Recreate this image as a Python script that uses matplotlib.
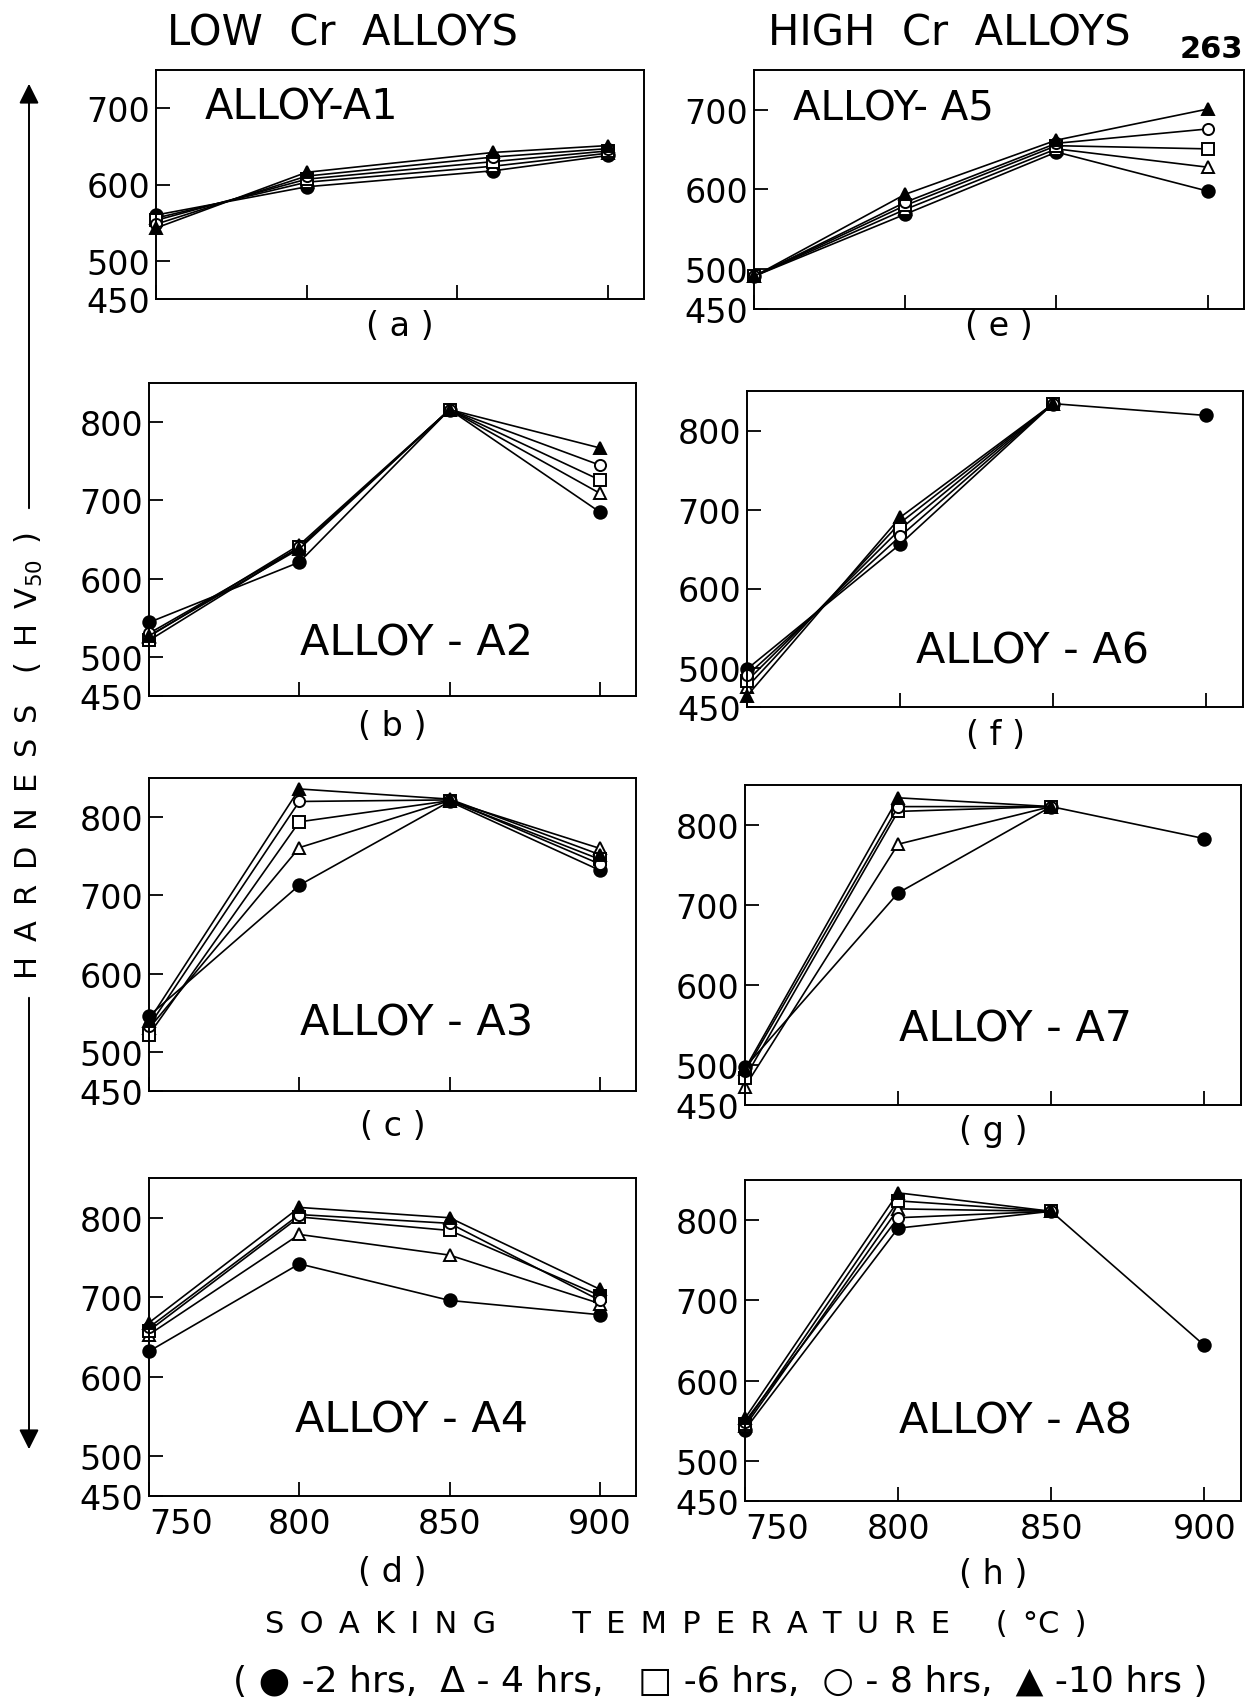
import numpy as np
import matplotlib.pyplot as plt
from matplotlib.patches import FancyArrowPatch

# soaking temperature (deg C) and hardness HV50, rows = 2, 4, 6, 8, 10 hrs
temps = [750, 800, 850, 900]
temps_a1 = [750, 800, 862, 900]
xtick_labels = ['750', '800', '850', '900']
yticks_low = [450, 500, 600, 700]
yticks_high = [450, 500, 600, 700, 800]
nan = np.nan

alloy_a1 = [[560, 597, 618, 638], [556, 603, 624, 641], [553, 607, 630, 644],
            [548, 611, 636, 647], [543, 616, 642, 651]]
alloy_a2 = [[544, 621, 816, 685], [526, 643, 816, 709], [521, 640, 816, 726],
            [530, 640, 816, 745], [527, 638, 816, 767]]
alloy_a3 = [[546, 713, 820, 732], [530, 761, 821, 760], [522, 794, 821, 746],
            [533, 820, 822, 740], [540, 836, 823, 752]]
alloy_a4 = [[632, 742, 696, 678], [653, 779, 753, 692], [658, 801, 784, 702],
            [662, 804, 793, 696], [668, 813, 800, 710]]
alloy_a5 = [[491, 569, 647, 598], [491, 575, 651, 628], [491, 580, 655, 651],
            [491, 584, 658, 676], [491, 594, 662, 701]]
alloy_a6 = [[498, 656, 834, 819], [475, 683, 834, nan], [483, 675, 834, nan],
            [490, 666, 834, nan], [464, 690, 834, nan]]
alloy_a7 = [[497, 715, 823, 783], [473, 776, 823, nan], [484, 817, 823, nan],
            [492, 823, 823, nan], [495, 834, 823, nan]]
alloy_a8 = [[539, 790, 811, 644], [543, 814, 811, nan], [546, 824, 811, nan],
            [549, 803, 811, nan], [553, 834, 811, nan]]

W, H = 1255, 1706
fig = plt.figure(figsize=(W / 100, H / 100), dpi=100)
plt.rcParams['font.family'] = 'DejaVu Sans'

# marker per soaking time: filled circle, open triangle, open square, open circle, filled triangle
styles = [('o', 'black', 9), ('^', 'white', 9), ('s', 'white', 8), ('o', 'white', 8), ('^', 'black', 9)]


def box(l, r, t, b):
    return [l / W, 1 - b / H, (r - l) / W, (b - t) / H]


panels = [
    (alloy_a1, temps_a1, 750, yticks_low, box(156, 644, 71, 300), 'ALLOY-A1', (0.10, 0.84), 30, '( a )', 327, False),
    (alloy_a2, temps, 850, yticks_high, box(149, 636, 384, 697), 'ALLOY - A2', (0.31, 0.17), 31, '( b )', 727, False),
    (alloy_a3, temps, 850, yticks_high, box(149, 636, 779, 1092), 'ALLOY - A3', (0.31, 0.22), 31, '( c )', 1127, False),
    (alloy_a4, temps, 850, yticks_high, box(149, 636, 1179, 1497), 'ALLOY - A4', (0.30, 0.24), 31, '( d )', 1573, True),
    (alloy_a5, temps, 750, yticks_low, box(754, 1244, 71, 310), 'ALLOY- A5', (0.08, 0.84), 29, '( e )', 327, False),
    (alloy_a6, temps, 850, yticks_high, box(747, 1243, 392, 708), 'ALLOY - A6', (0.34, 0.18), 31, '( f )', 736, False),
    (alloy_a7, temps, 850, yticks_high, box(745, 1241, 786, 1106), 'ALLOY - A7', (0.31, 0.24), 31, '( g )', 1132, False),
    (alloy_a8, temps, 850, yticks_high, box(745, 1241, 1181, 1502), 'ALLOY - A8', (0.31, 0.25), 31, '( h )', 1575, True),
]

for data, x, ytop, yt, pos, name, tpos, tsize, sub, sub_y, bottom in panels:
    ax = fig.add_axes(pos)
    for row, (m, fc, ms) in zip(data, styles):
        ax.plot(x, row, color='black', lw=1.2, marker=m, markerfacecolor=fc,
                markeredgecolor='black', markeredgewidth=1.4, markersize=ms, clip_on=False)
    ax.set_xlim(750, 912)
    ax.set_ylim(450, ytop)
    ax.set_yticks(yt)
    ax.set_yticklabels([str(v) for v in yt], fontsize=24)
    ax.set_xticks(temps)
    if bottom:
        ax.set_xticklabels(xtick_labels, fontsize=24)
        ax.get_xticklabels()[0].set_horizontalalignment('left')
    else:
        ax.set_xticklabels([])
    ax.tick_params(direction='in', length=10, width=1.3, pad=8)
    ax.tick_params(axis='y', pad=4)
    for s in ax.spines.values():
        s.set_linewidth(1.4)
    ax.text(tpos[0], tpos[1], name, transform=ax.transAxes, fontsize=tsize, va='center', ha='left')
    cx = (pos[0] + pos[2] / 2)
    fig.text(cx, 1 - sub_y / H, sub, fontsize=24, ha='center', va='center')

fig.text(342 / W, 1 - 33 / H, 'LOW  Cr  ALLOYS', fontsize=30, ha='center', va='center')
fig.text(949 / W, 1 - 34 / H, 'HIGH  Cr  ALLOYS', fontsize=30, ha='center', va='center')
fig.text(1211 / W, 1 - 50 / H, '263', fontsize=22, fontweight='bold', ha='center', va='center')

fig.text(29 / W, 1 - 756 / H, '\u2002'.join('HARDNESS') + '\u2003(\u2002H\u2002V$_{50}$\u2002)',
         fontsize=22, rotation=90, ha='center', va='center')
fig.add_artist(FancyArrowPatch((29 / W, 1 - 512 / H), (29 / W, 1 - 82 / H), transform=fig.transFigure,
                               arrowstyle='-|>', mutation_scale=30, color='black', lw=1.4))
fig.add_artist(FancyArrowPatch((29 / W, 1 - 996 / H), (29 / W, 1 - 1453 / H), transform=fig.transFigure,
                               arrowstyle='-|>', mutation_scale=30, color='black', lw=1.4))

fig.text(676 / W, 1 - 1625 / H,
         '\u2002'.join('SOAKING') + '\u2003\u2003\u2002' + '\u2002'.join('TEMPERATURE') + '\u2003\u2002(\u2002°C\u2002)',
         fontsize=22, ha='center', va='center')
fig.text(720 / W, 1 - 1682 / H, '( ● -2 hrs,  Δ - 4 hrs,   □ -6 hrs,  ○ - 8 hrs,  ▲ -10 hrs )',
         fontsize=26, ha='center', va='center')

fig.savefig('out.png', dpi=100)
